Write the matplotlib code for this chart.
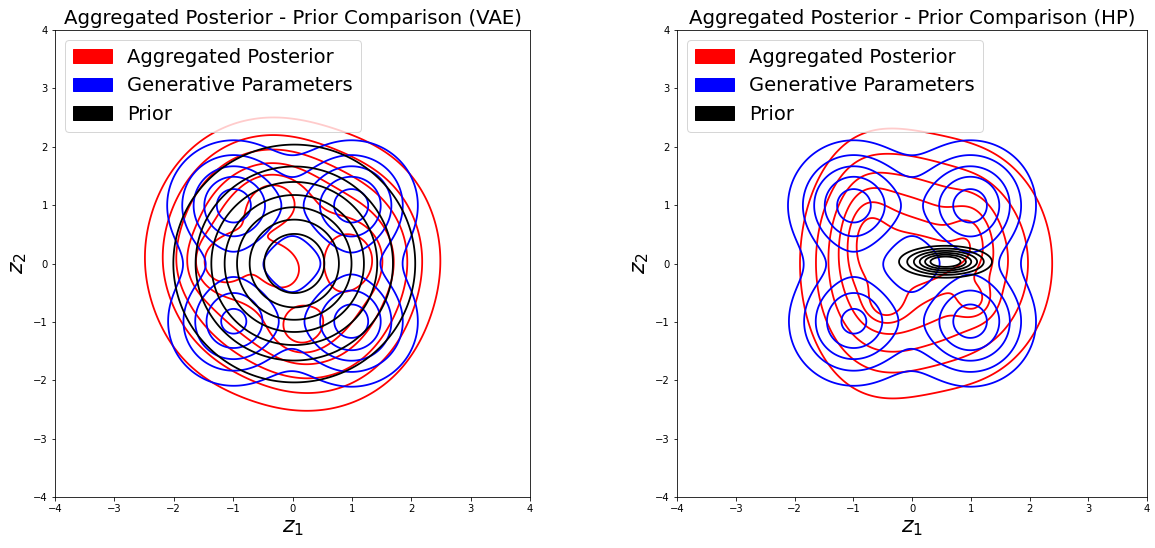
import numpy as np
import matplotlib
matplotlib.use("Agg")
import matplotlib.pyplot as plt
from matplotlib.patches import Patch

# ---------------- data (mixture descriptions) -------------
titles = ["Aggregated Posterior - Prior Comparison (VAE)",
          "Aggregated Posterior - Prior Comparison (HP)"]
legend_labels = ["Aggregated Posterior", "Generative Parameters", "Prior"]
ticks = [-4, -3, -2, -1, 0, 1, 2, 3, 4]

# generative parameters (blue): 4 Gaussians, same in both panels, density levels
gen_mx = [-1.0, 1.0, -1.0, 1.0]
gen_my = [1.0, 1.0, -1.0, -1.0]
gen_sx = [0.60, 0.60, 0.60, 0.60]
gen_sy = [0.60, 0.60, 0.60, 0.60]
gen_w = [0.25, 0.25, 0.238, 0.25]
gen_levels = [0.02, 0.04, 0.06, 0.08, 0.10]

# VAE prior (black): standard normal, density levels
vae_prior_mx = [0.03]
vae_prior_my = [0.0]
vae_prior_sx = [1.0]
vae_prior_sy = [1.0]
vae_prior_w = [1.0]
vae_prior_levels = [0.02, 0.04, 0.06, 0.08, 0.10, 0.12, 0.14]

# VAE aggregated posterior (red): ring of broad bumps + small bumps (amplitudes)
vae_post_mx = [1.25, 1.03, -0.25, -1.00, -1.25, -1.00, 0.20, 1.03,
               -0.20, 1.00, -1.26, 0.13, -0.30]
vae_post_my = [0.05, 1.03, 1.25, 1.03, 0.05, -1.03, -1.28, -1.03,
               -0.08, 0.08, 0.00, -1.12, 1.10]
vae_post_sx = [0.80, 0.85, 0.80, 0.85, 0.80, 0.85, 0.80, 0.85,
               0.30, 0.32, 0.30, 0.25, 0.28]
vae_post_sy = [0.80, 0.85, 0.80, 0.85, 0.80, 0.85, 0.80, 0.85,
               0.30, 0.34, 0.30, 0.25, 0.26]
vae_post_a = [1.00, 0.70, 1.00, 0.72, 1.00, 0.70, 1.03, 0.70,
              0.50, 0.60, 0.58, 0.48, 0.40]
vae_post_levels = [0.46, 0.79, 1.12, 1.46, 1.79, 2.12]

# HP aggregated posterior (red): two broad lobes + small bumps (amplitudes)
hp_post_mx = [-0.70, 0.80, -0.80, 1.00, -0.45, 1.05, 0.30]
hp_post_my = [0.00, 0.00, 0.60, 0.50, -0.68, -0.63, 0.10]
hp_post_sx = [0.76, 1.05, 0.28, 0.25, 0.22, 0.20, 0.55]
hp_post_sy = [1.33, 1.33, 0.55, 0.40, 0.22, 0.20, 0.32]
hp_post_a = [1.00, 1.00, 0.30, 0.30, 0.40, 0.40, 0.30]
hp_post_levels = [0.32, 0.54, 0.76, 0.98, 1.20, 1.42]

# HP prior (black): narrow Gaussian (amplitude 1)
hp_prior_mx = [0.57]
hp_prior_my = [0.03]
hp_prior_sx = [0.42]
hp_prior_sy = [0.145]
hp_prior_a = [1.0]
hp_prior_levels = [0.17, 0.30, 0.44, 0.58, 0.71, 0.83]


def density(X, Y, mx, my, sx, sy, w):
    Z = np.zeros_like(X)
    for a, b, c, d, e in zip(mx, my, sx, sy, w):
        Z += e / (2 * np.pi * c * d) * np.exp(-0.5 * (((X - a) / c) ** 2 + ((Y - b) / d) ** 2))
    return Z


def bumps(X, Y, mx, my, sx, sy, amp):
    Z = np.zeros_like(X)
    for a, b, c, d, e in zip(mx, my, sx, sy, amp):
        Z += e * np.exp(-0.5 * (((X - a) / c) ** 2 + ((Y - b) / d) ** 2))
    return Z


g = np.linspace(-4, 4, 600)
X, Y = np.meshgrid(g, g)

W, H = 1155, 548
fig = plt.figure(figsize=(W / 72, H / 72), dpi=72)
axes = [fig.add_axes([55 / W, (H - 497) / H, 475 / W, 467 / H]),
        fig.add_axes([677 / W, (H - 497) / H, 470 / W, 467 / H])]

fields = [
    [(bumps(X, Y, vae_post_mx, vae_post_my, vae_post_sx, vae_post_sy, vae_post_a), vae_post_levels, "red"),
     (density(X, Y, gen_mx, gen_my, gen_sx, gen_sy, gen_w), gen_levels, "blue"),
     (density(X, Y, vae_prior_mx, vae_prior_my, vae_prior_sx, vae_prior_sy, vae_prior_w), vae_prior_levels, "black")],
    [(bumps(X, Y, hp_post_mx, hp_post_my, hp_post_sx, hp_post_sy, hp_post_a), hp_post_levels, "red"),
     (density(X, Y, gen_mx, gen_my, gen_sx, gen_sy, gen_w), gen_levels, "blue"),
     (bumps(X, Y, hp_prior_mx, hp_prior_my, hp_prior_sx, hp_prior_sy, hp_prior_a), hp_prior_levels, "black")],
]

for ax, title, comps in zip(axes, titles, fields):
    for Z, lev, col in comps:
        ax.contour(X, Y, Z, levels=lev, colors=col, linewidths=1.8)
    ax.set_xlim(-4, 4)
    ax.set_ylim(-4, 4)
    ax.set_xticks(ticks)
    ax.set_yticks(ticks)
    ax.tick_params(labelsize=10)
    ax.set_title(title, fontsize=19.7)
    ax.set_xlabel("$z_1$", fontsize=22)
    ax.set_ylabel("$z_2$", fontsize=22)
    handles = [Patch(facecolor=c, edgecolor=c) for c in ["red", "blue", "black"]]
    ax.legend(handles, legend_labels, loc="upper left", fontsize=19.5)

fig.savefig("out.png", dpi=72)
